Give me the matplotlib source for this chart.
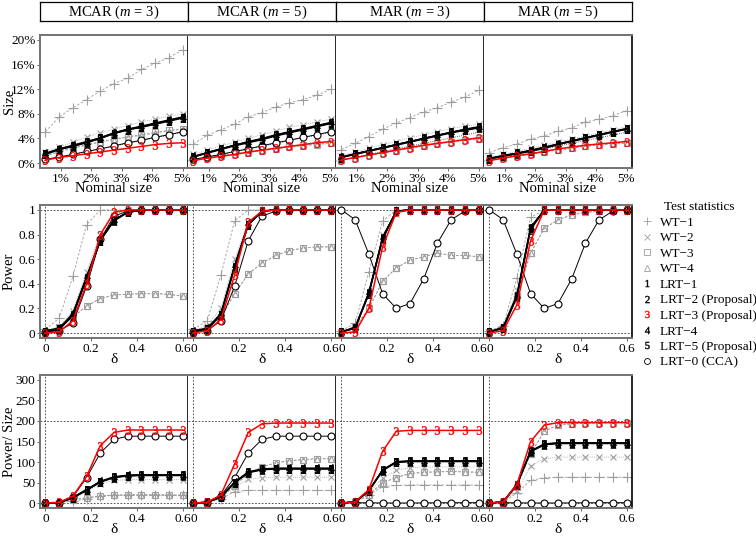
import matplotlib
matplotlib.use("Agg")
import matplotlib.pyplot as plt
from matplotlib.lines import Line2D

plt.rcParams['font.family'] = ['Liberation Serif', 'DejaVu Serif']
plt.rcParams['mathtext.fontset'] = 'custom'
plt.rcParams['mathtext.rm'] = 'Liberation Serif'
plt.rcParams['mathtext.it'] = 'Liberation Serif:italic'

# ---- data -------------------------------------------------------------
panels = ["MCAR ($m$ = 3)", "MCAR ($m$ = 5)", "MAR ($m$ = 3)", "MAR ($m$ = 5)"]
nominal = [0.5, 0.95, 1.4, 1.85, 2.3, 2.75, 3.2, 3.65, 4.1, 4.55, 5.0]
delta = [0, 0.06, 0.12, 0.18, 0.24, 0.3, 0.36, 0.42, 0.48, 0.54, 0.6]

# row 1: empirical size (%), one list per panel
size_wt1 = [[5.1, 7.5, 9.0, 10.3, 11.7, 12.9, 13.8, 15.2, 16.2, 17.1, 18.4],
            [3.1, 4.5, 5.4, 6.3, 7.5, 8.2, 9.1, 9.8, 10.3, 11.0, 12.0],
            [2.2, 3.2, 4.3, 5.5, 6.5, 7.4, 8.3, 9.0, 9.9, 10.7, 11.8],
            [1.7, 2.5, 3.1, 3.9, 4.4, 5.2, 5.7, 6.7, 7.1, 7.7, 8.5]]
size_wt2 = [[1.8, 2.6, 3.4, 4.2, 4.9, 5.5, 6.1, 6.7, 7.1, 7.6, 8.0],
            [1.4, 2.1, 2.8, 3.4, 4.0, 4.6, 5.2, 5.8, 6.2, 6.7, 7.1],
            [1.2, 1.8, 2.4, 3.0, 3.5, 4.1, 4.6, 5.1, 5.6, 6.0, 6.3],
            [0.9, 1.4, 1.9, 2.4, 2.9, 3.4, 3.9, 4.4, 4.9, 5.4, 5.9]]
size_wt3 = [[1.2, 1.9, 2.5, 3.0, 3.5, 3.9, 4.3, 4.6, 5.0, 5.3, 5.6],
            [0.5, 0.9, 1.2, 1.5, 1.8, 2.1, 2.4, 2.7, 2.9, 3.1, 3.3],
            [0.5, 0.9, 1.3, 1.7, 2.1, 2.5, 2.9, 3.2, 3.5, 3.8, 4.0],
            [0.5, 0.8, 1.2, 1.5, 1.9, 2.2, 2.5, 2.8, 3.0, 3.2, 3.3]]
size_wt4 = [[1.1, 1.8, 2.4, 2.9, 3.4, 3.8, 4.2, 4.5, 4.9, 5.2, 5.5],
            [0.5, 0.8, 1.1, 1.4, 1.7, 2.0, 2.3, 2.6, 2.8, 3.0, 3.2],
            [0.5, 0.9, 1.3, 1.6, 2.0, 2.4, 2.8, 3.1, 3.4, 3.7, 3.9],
            [0.5, 0.8, 1.1, 1.4, 1.8, 2.1, 2.4, 2.7, 2.9, 3.1, 3.2]]
size_lrt1 = [[1.5, 2.3, 2.8, 3.4, 4.1, 4.9, 5.5, 5.9, 6.4, 6.9, 7.4],
             [1.0, 1.7, 2.3, 2.9, 3.4, 3.9, 4.5, 5.0, 5.5, 6.0, 6.5],
             [1.0, 1.5, 2.0, 2.5, 3.0, 3.5, 4.0, 4.5, 5.0, 5.4, 5.8],
             [0.7, 1.2, 1.6, 2.0, 2.5, 3.1, 3.6, 4.1, 4.6, 5.1, 5.6]]
size_lrt2 = [[1.4, 2.2, 2.7, 3.3, 4.0, 4.8, 5.4, 5.8, 6.3, 6.8, 7.3],
             [1.0, 1.6, 2.2, 2.8, 3.3, 3.8, 4.4, 4.9, 5.4, 5.9, 6.4],
             [0.9, 1.4, 1.9, 2.4, 2.9, 3.4, 3.9, 4.4, 4.9, 5.3, 5.7],
             [0.7, 1.1, 1.5, 1.9, 2.4, 3.0, 3.5, 4.0, 4.5, 5.0, 5.5]]
size_lrt3 = [[0.5, 0.9, 1.2, 1.5, 1.8, 2.1, 2.4, 2.7, 3.0, 3.2, 3.3],
             [0.4, 0.8, 1.1, 1.4, 1.8, 2.1, 2.4, 2.7, 3.0, 3.3, 3.5],
             [0.5, 0.9, 1.3, 1.7, 2.1, 2.5, 2.9, 3.2, 3.5, 3.8, 4.1],
             [0.4, 0.8, 1.2, 1.5, 1.9, 2.3, 2.6, 2.9, 3.1, 3.3, 3.5]]
size_lrt4 = [[1.6, 2.3, 2.9, 3.5, 4.1, 4.9, 5.5, 6.0, 6.5, 7.0, 7.5],
             [1.1, 1.7, 2.3, 2.9, 3.5, 4.0, 4.6, 5.1, 5.6, 6.1, 6.6],
             [1.0, 1.5, 2.0, 2.5, 3.0, 3.5, 4.0, 4.5, 5.0, 5.5, 5.9],
             [0.8, 1.2, 1.6, 2.1, 2.6, 3.1, 3.6, 4.1, 4.6, 5.1, 5.6]]
size_lrt5 = [[1.5, 2.2, 2.8, 3.4, 4.0, 4.8, 5.4, 5.9, 6.4, 6.9, 7.4],
             [1.0, 1.7, 2.3, 2.9, 3.4, 3.9, 4.5, 5.0, 5.5, 6.0, 6.5],
             [0.9, 1.5, 2.0, 2.5, 3.0, 3.5, 4.0, 4.5, 5.0, 5.4, 5.8],
             [0.7, 1.2, 1.6, 2.0, 2.5, 3.0, 3.6, 4.1, 4.6, 5.1, 5.5]]
size_lrt0 = [[0.6, 1.0, 1.4, 1.9, 2.3, 2.8, 3.3, 3.7, 4.2, 4.6, 5.1],
             [0.6, 1.0, 1.4, 1.9, 2.3, 2.8, 3.3, 3.7, 4.2, 4.6, 5.1],
             [99.8, 99.9, 99.9, 99.9, 99.9, 100, 100, 100, 100, 100, 100],
             [99.8, 99.9, 99.9, 99.9, 99.9, 100, 100, 100, 100, 100, 100]]

# row 2: power
power_wt1 = [[0.03, 0.12, 0.46, 0.88, 1.0, 1.0, 1.0, 1.0, 1.0, 1.0, 1.0],
             [0.03, 0.10, 0.47, 0.91, 1.0, 1.0, 1.0, 1.0, 1.0, 1.0, 1.0],
             [0.02, 0.08, 0.50, 0.91, 1.0, 1.0, 1.0, 1.0, 1.0, 1.0, 1.0],
             [0.02, 0.06, 0.45, 0.94, 1.0, 1.0, 1.0, 1.0, 1.0, 1.0, 1.0]]
power_wt2 = [[0.02, 0.05, 0.18, 0.50, 0.80, 0.96, 1.0, 1.0, 1.0, 1.0, 1.0],
             [0.02, 0.06, 0.20, 0.60, 0.90, 0.99, 1.0, 1.0, 1.0, 1.0, 1.0],
             [0.01, 0.05, 0.30, 0.80, 0.97, 1.0, 1.0, 1.0, 1.0, 1.0, 1.0],
             [0.01, 0.05, 0.35, 0.85, 1.0, 1.0, 1.0, 1.0, 1.0, 1.0, 1.0]]
power_wt3 = [[0.01, 0.05, 0.13, 0.22, 0.28, 0.31, 0.315, 0.32, 0.32, 0.315, 0.30],
             [0.01, 0.04, 0.13, 0.32, 0.48, 0.57, 0.63, 0.67, 0.69, 0.70, 0.70],
             [0.01, 0.05, 0.20, 0.42, 0.53, 0.59, 0.62, 0.65, 0.63, 0.63, 0.62],
             [0.01, 0.04, 0.30, 0.65, 0.85, 0.92, 0.96, 0.98, 0.99, 1.0, 1.0]]
power_wt4 = [[0.01, 0.05, 0.13, 0.22, 0.28, 0.31, 0.315, 0.32, 0.32, 0.315, 0.30],
             [0.01, 0.04, 0.13, 0.32, 0.48, 0.57, 0.63, 0.67, 0.69, 0.70, 0.70],
             [0.01, 0.05, 0.20, 0.42, 0.53, 0.59, 0.62, 0.65, 0.63, 0.63, 0.62],
             [0.01, 0.04, 0.30, 0.65, 0.85, 0.92, 0.96, 0.98, 0.99, 1.0, 1.0]]
power_lrt1 = [[0.01, 0.03, 0.15, 0.45, 0.75, 0.92, 0.98, 1.0, 1.0, 1.0, 1.0],
              [0.01, 0.03, 0.15, 0.54, 0.88, 0.99, 1.0, 1.0, 1.0, 1.0, 1.0],
              [0.01, 0.04, 0.33, 0.77, 0.99, 1.0, 1.0, 1.0, 1.0, 1.0, 1.0],
              [0.01, 0.04, 0.30, 0.85, 1.0, 1.0, 1.0, 1.0, 1.0, 1.0, 1.0]]
power_lrt2 = [[0.01, 0.03, 0.14, 0.44, 0.75, 0.91, 0.98, 1.0, 1.0, 1.0, 1.0],
              [0.01, 0.03, 0.15, 0.53, 0.88, 0.99, 1.0, 1.0, 1.0, 1.0, 1.0],
              [0.01, 0.04, 0.32, 0.76, 0.99, 1.0, 1.0, 1.0, 1.0, 1.0, 1.0],
              [0.01, 0.04, 0.29, 0.84, 1.0, 1.0, 1.0, 1.0, 1.0, 1.0, 1.0]]
power_lrt3 = [[0.0, 0.01, 0.10, 0.40, 0.80, 0.98, 1.0, 1.0, 1.0, 1.0, 1.0],
              [0.0, 0.02, 0.11, 0.47, 0.90, 0.99, 1.0, 1.0, 1.0, 1.0, 1.0],
              [0.0, 0.01, 0.20, 0.70, 0.98, 1.0, 1.0, 1.0, 1.0, 1.0, 1.0],
              [0.0, 0.02, 0.23, 0.75, 1.0, 1.0, 1.0, 1.0, 1.0, 1.0, 1.0]]
power_lrt4 = [[0.02, 0.04, 0.16, 0.46, 0.76, 0.92, 0.98, 1.0, 1.0, 1.0, 1.0],
              [0.02, 0.04, 0.16, 0.55, 0.89, 0.99, 1.0, 1.0, 1.0, 1.0, 1.0],
              [0.01, 0.05, 0.33, 0.78, 0.99, 1.0, 1.0, 1.0, 1.0, 1.0, 1.0],
              [0.01, 0.05, 0.31, 0.86, 1.0, 1.0, 1.0, 1.0, 1.0, 1.0, 1.0]]
power_lrt5 = [[0.01, 0.03, 0.15, 0.45, 0.75, 0.92, 0.98, 1.0, 1.0, 1.0, 1.0],
              [0.01, 0.03, 0.15, 0.54, 0.88, 0.99, 1.0, 1.0, 1.0, 1.0, 1.0],
              [0.01, 0.04, 0.32, 0.77, 0.99, 1.0, 1.0, 1.0, 1.0, 1.0, 1.0],
              [0.01, 0.04, 0.30, 0.85, 1.0, 1.0, 1.0, 1.0, 1.0, 1.0, 1.0]]
power_lrt0 = [[0.01, 0.02, 0.08, 0.38, 0.76, 0.95, 0.99, 1.0, 1.0, 1.0, 1.0],
              [0.01, 0.02, 0.10, 0.38, 0.75, 0.95, 0.99, 1.0, 1.0, 1.0, 1.0],
              [1.0, 0.92, 0.64, 0.32, 0.20, 0.24, 0.44, 0.73, 0.92, 0.99, 1.0],
              [1.0, 0.92, 0.64, 0.32, 0.20, 0.24, 0.44, 0.73, 0.92, 0.99, 1.0]]

# row 3: power / size
ratio_wt1 = [[0, 1, 5, 10, 18, 19, 19, 19, 19, 19, 19],
             [0, 1, 10, 28, 31, 31, 31, 31, 31, 31, 31],
             [0, 2, 20, 40, 43, 44, 44, 44, 44, 44, 44],
             [0, 2, 25, 55, 62, 63, 63, 63, 63, 63, 63]]
ratio_wt2 = [[0, 1, 10, 28, 47, 55, 57, 57, 57, 57, 57],
             [0, 1, 12, 40, 58, 62, 63, 63, 63, 63, 63],
             [0, 2, 25, 60, 80, 86, 88, 88, 88, 88, 88],
             [0, 2, 30, 90, 108, 112, 112, 112, 112, 112, 112]]
ratio_wt3 = [[0, 1, 8, 13, 17, 19, 20, 20, 20, 20, 19],
             [0, 2, 14, 42, 72, 88, 98, 103, 106, 108, 108],
             [0, 2, 20, 50, 62, 72, 75, 76, 77, 76, 75],
             [0, 2, 40, 120, 175, 190, 193, 195, 195, 196, 196]]
ratio_wt4 = [[0, 1, 8, 13, 17, 19, 20, 20, 20, 20, 19],
             [0, 2, 14, 42, 72, 88, 98, 103, 106, 108, 108],
             [0, 2, 20, 50, 62, 72, 75, 76, 77, 76, 75],
             [0, 2, 40, 120, 175, 190, 193, 195, 195, 196, 196]]
ratio_lrt1 = [[0, 1, 13, 32, 52, 63, 67, 68, 68, 68, 68],
              [0, 2, 15, 50, 75, 82, 84, 84, 84, 84, 84],
              [0, 3, 30, 80, 100, 102, 102, 102, 102, 102, 102],
              [0, 3, 45, 126, 143, 146, 146, 146, 146, 146, 146]]
ratio_lrt2 = [[0, 1, 13, 31, 51, 62, 66, 67, 67, 67, 67],
              [0, 2, 15, 49, 74, 81, 83, 83, 83, 83, 83],
              [0, 3, 29, 79, 99, 101, 101, 101, 101, 101, 101],
              [0, 3, 44, 125, 142, 145, 145, 145, 145, 145, 145]]
ratio_lrt3 = [[0, 2, 17, 65, 140, 172, 178, 178, 178, 178, 178],
              [0, 2, 20, 95, 172, 193, 195, 195, 195, 195, 195],
              [0, 3, 33, 126, 175, 177, 177, 177, 177, 177, 177],
              [0, 3, 45, 150, 190, 196, 196, 196, 196, 196, 196]]
ratio_lrt4 = [[0, 1, 14, 33, 53, 64, 68, 69, 69, 69, 69],
              [0, 2, 16, 51, 76, 83, 85, 85, 85, 85, 85],
              [0, 3, 31, 81, 101, 103, 103, 103, 103, 103, 103],
              [0, 3, 46, 127, 144, 147, 147, 147, 147, 147, 147]]
ratio_lrt5 = [[0, 1, 13, 32, 52, 63, 67, 68, 68, 68, 68],
              [0, 2, 15, 50, 75, 82, 84, 84, 84, 84, 84],
              [0, 3, 30, 80, 100, 102, 102, 102, 102, 102, 102],
              [0, 3, 45, 126, 143, 146, 146, 146, 146, 146, 146]]
ratio_lrt0 = [[0, 1, 15, 62, 122, 155, 163, 163, 163, 163, 163],
              [0, 1, 18, 62, 122, 155, 163, 163, 163, 163, 163],
              [1, 0.9, 0.6, 0.3, 0.2, 0.2, 0.4, 0.7, 0.9, 1, 1],
              [1, 0.9, 0.6, 0.3, 0.2, 0.2, 0.4, 0.7, 0.9, 1, 1]]

labels = ["WT\u22121", "WT\u22122", "WT\u22123", "WT\u22124", "LRT\u22121",
          "LRT\u22122 (Proposal)", "LRT\u22123 (Proposal)", "LRT\u22124",
          "LRT\u22125 (Proposal)", "LRT\u22120 (CCA)"]

# style per series
GREY = '0.62'
styles = [
    dict(marker='+', color=GREY, ls=(0, (3, 2)), lw=0.6, ms=7, mfc=GREY, mew=0.8),
    dict(marker='x', color=GREY, ls=(0, (1, 1.5)), lw=0.6, ms=5, mfc=GREY, mew=0.8),
    dict(marker='s', color=GREY, ls=(0, (3, 2)), lw=0.6, ms=4.5, mfc='none', mew=0.8),
    dict(marker='^', color=GREY, ls=(0, (3, 2)), lw=0.6, ms=5, mfc='none', mew=0.8),
    dict(marker='$1$', color='black', ls='-', lw=1.0, ms=6, mfc='black', mew=0.3),
    dict(marker='$2$', color='black', ls='-', lw=1.0, ms=6, mfc='black', mew=0.3),
    dict(marker='$3$', color='red', ls='-', lw=1.1, ms=6, mfc='red', mew=0.3),
    dict(marker='$4$', color='black', ls='-', lw=1.0, ms=6, mfc='black', mew=0.3),
    dict(marker='$5$', color='black', ls='-', lw=1.0, ms=6, mfc='black', mew=0.3),
    dict(marker='o', color='black', ls='-', lw=0.7, ms=5, mfc='white', mew=0.8),
]
# draw order: grey first, then CCA, black, red on top
order = [0, 1, 2, 3, 9, 4, 5, 7, 8, 6]

rows = [
    (nominal, [size_wt1, size_wt2, size_wt3, size_wt4, size_lrt1, size_lrt2,
               size_lrt3, size_lrt4, size_lrt5, size_lrt0]),
    (delta, [power_wt1, power_wt2, power_wt3, power_wt4, power_lrt1, power_lrt2,
             power_lrt3, power_lrt4, power_lrt5, power_lrt0]),
    (delta, [ratio_wt1, ratio_wt2, ratio_wt3, ratio_wt4, ratio_lrt1, ratio_lrt2,
             ratio_lrt3, ratio_lrt4, ratio_lrt5, ratio_lrt0]),
]

# ---- layout (pixels) --------------------------------------------------
W, H = 756, 545
col_left = [40, 188, 336, 484]
col_w = 148
row_top = [35, 205, 375]
row_h = 133

fig = plt.figure(figsize=(W / 100, H / 100), dpi=100)


def box(x, y, w, h):
    return [x / W, 1 - (y + h) / H, w / W, h / H]


# strips
for j, name in enumerate(panels):
    sa = fig.add_axes(box(col_left[j], 2, col_w, 19))
    sa.set_xticks([])
    sa.set_yticks([])
    for s in sa.spines.values():
        s.set_linewidth(0.9)
    sa.text(0.5, 0.45, name, ha='center', va='center', fontsize=10.5,
            transform=sa.transAxes)

ylabels = ["Size", "Power", "Power/ Size"]
for i, (xv, series) in enumerate(rows):
    for j in range(4):
        ax = fig.add_axes(box(col_left[j], row_top[i], col_w, row_h))
        if i == 0:
            ax.set_xlim(0.32, 5.18)
            ax.set_ylim(-0.8, 20.8)
            ax.set_xticks([1, 2, 3, 4, 5])
            ax.set_xticklabels(["1%", "2%", "3%", "4%", "5%"])
            ax.set_yticks([0, 4, 8, 12, 16, 20])
            ax.set_yticklabels(["0%", "4%", "8%", "12%", "16%", "20%"])
            ax.plot([0, 5.5], [0, 5.5], ls=(0, (1, 1.5)), color='0.2', lw=0.6)
            ax.set_xlabel("Nominal size", fontsize=10.5, labelpad=-2)
        else:
            ax.set_xlim(-0.024, 0.624)
            ax.set_xticks([0, 0.2, 0.4, 0.6])
            ax.set_xticklabels(["0", "0.2", "0.4", "0.6"])
            ax.axvline(0, ls=(0, (2, 2)), color='0.2', lw=0.6)
            ax.axhline(0, ls=(0, (2, 2)), color='0.2', lw=0.6)
            if i == 1:
                ax.set_ylim(-0.04, 1.04)
                ax.set_yticks([0, 0.2, 0.4, 0.6, 0.8, 1])
                ax.set_yticklabels(["0", "0.2", "0.4", "0.6", "0.8", "1"])
                ax.axhline(1, ls=(0, (2, 2)), color='0.2', lw=0.6)
            else:
                ax.set_ylim(-12, 312)
                ax.set_yticks([0, 50, 100, 150, 200, 250, 300])
                ax.axhline(200, ls=(0, (2, 2)), color='0.2', lw=0.6)
            ax.set_xlabel("\u03b4", fontsize=11, labelpad=-1)

        for k in order:
            st = styles[k]
            ax.plot(xv, series[k][j], marker=st['marker'], color=st['color'],
                    ls=st['ls'], lw=st['lw'], ms=st['ms'], mfc=st['mfc'],
                    mec=st['color'], mew=st['mew'])

        ax.tick_params(direction='out', length=2.5, width=0.6, color='0.3',
                       labelsize=9.5, pad=0.8)
        if j == 0:
            ax.set_ylabel(ylabels[i], fontsize=10.5)
            ax.yaxis.set_label_coords(-24 / col_w, 0.5)
        else:
            ax.tick_params(axis='y', left=False, labelleft=False)
        for side in ['top', 'bottom']:
            ax.spines[side].set_color('0.45')
            ax.spines[side].set_linewidth(1.4)
        ax.spines['right'].set_color('black')
        ax.spines['right'].set_linewidth(1.2)
        if j == 0:
            ax.spines['left'].set_color('0.45')
            ax.spines['left'].set_linewidth(1.4)
        else:
            ax.spines['left'].set_visible(False)

# legend
handles = []
for k in range(10):
    st = styles[k]
    handles.append(Line2D([], [], ls='none', marker=st['marker'],
                          color=st['color'], mfc=st['mfc'], mec=st['color'],
                          ms=st['ms'] * 0.85, mew=min(st['mew'], 0.6)))
leg = fig.legend(handles, labels, loc='upper left',
                 bbox_to_anchor=(636 / W, 1 - 196 / H), frameon=False,
                 title="Test statistics", fontsize=9.5, title_fontsize=9.5,
                 handlelength=0.8, handletextpad=0.6, labelspacing=0.25,
                 borderaxespad=0)

fig.savefig("out.png", dpi=100)
